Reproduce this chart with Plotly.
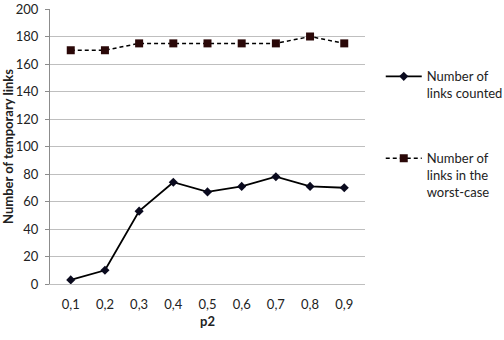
import plotly.graph_objects as go

categories = ["0,1", "0,2", "0,3", "0,4", "0,5", "0,6", "0,7", "0,8", "0,9"]
links_counted = [3, 10, 53, 74, 67, 71, 78, 71, 70]
links_worst = [170, 170, 175, 175, 175, 175, 175, 180, 175]
y_ticks = [0, 20, 40, 60, 80, 100, 120, 140, 160, 180, 200]

FONT = "Lato, Calibri, Carlito, sans-serif"

fig = go.Figure()
fig.add_trace(go.Scatter(
    x=categories, y=links_counted, mode="lines+markers",
    name="Number of<br>links counted",
    line=dict(color="#000000", width=1.8),
    marker=dict(symbol="diamond", size=7, color="#0a0a1e"),
    legend="legend", showlegend=True,
))
fig.add_trace(go.Scatter(
    x=categories, y=links_worst, mode="lines+markers",
    name="Number of<br>links in the<br>worst-case",
    line=dict(color="#000000", width=1.5, dash="4px,3px"),
    marker=dict(symbol="square", size=8, color="#2a0808"),
    legend="legend2", showlegend=True,
))

fig.update_layout(
    width=504, height=340,
    margin=dict(l=50, r=139, t=9, b=56, autoexpand=False),
    paper_bgcolor="white", plot_bgcolor="white",
    showlegend=True,
    font=dict(family=FONT, size=13, color="#222222"),
    legend=dict(x=1.05, y=0.724, xanchor="left", yanchor="middle",
                valign="top", font=dict(size=13, family=FONT),
                bgcolor="rgba(0,0,0,0)", itemwidth=36, visible=True),
    legend2=dict(x=1.05, y=0.395, xanchor="left", yanchor="middle",
                 valign="top", font=dict(size=13, family=FONT),
                 bgcolor="rgba(0,0,0,0)", itemwidth=36, visible=True),
    xaxis=dict(
        type="category", showgrid=False, showline=True, automargin=False,
        linecolor="#bfbfbf", linewidth=1, ticks="",
        tickfont=dict(size=13, family=FONT), ticklabelstandoff=8,
        title=dict(text="<b>p2</b>", font=dict(size=13, family=FONT), standoff=6),
    ),
    yaxis=dict(
        range=[0, 200], tickvals=y_ticks, showgrid=True, automargin=False,
        gridcolor="#bfbfbf", gridwidth=1, showline=True,
        linecolor="#8c8c8c", linewidth=1, ticks="outside", ticklen=4,
        tickcolor="#8c8c8c", zeroline=False, ticklabelstandoff=4,
        tickfont=dict(size=13, family=FONT),
        title=dict(text="<b>Number of temporary links</b>",
                   font=dict(size=13, family=FONT), standoff=6),
    ),
)

fig.write_html("out.html")
